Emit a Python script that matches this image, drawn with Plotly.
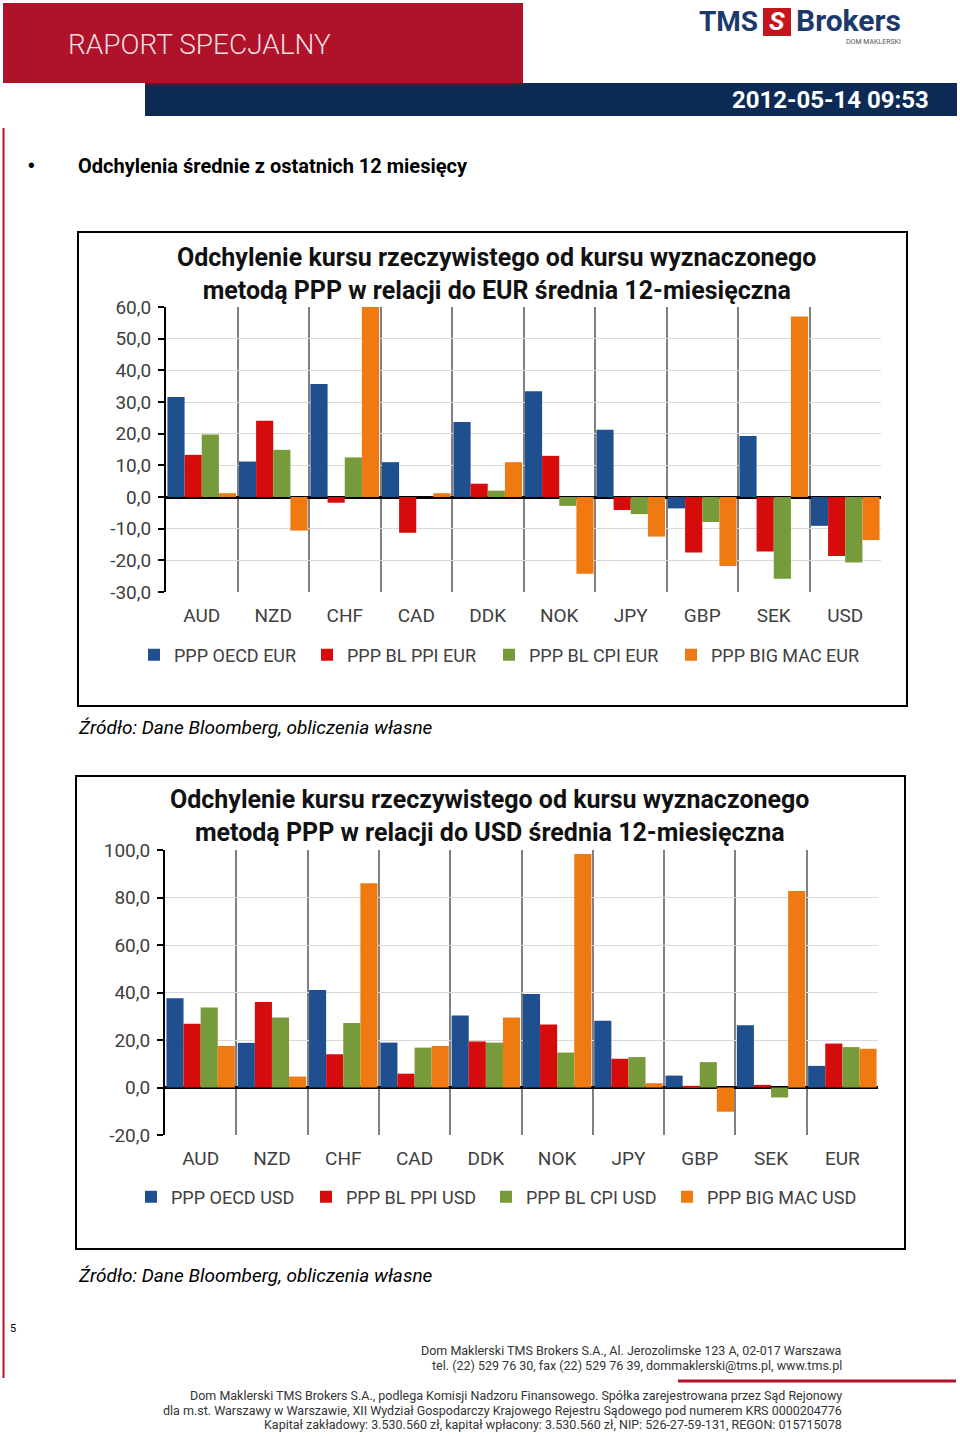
import plotly.graph_objects as go

W, H = 960, 1436

def fx(x):
    return x / W

def fy(y):
    return 1 - y / H

# ---------------- data ----------------
cats_eur = ["AUD", "NZD", "CHF", "CAD", "DDK", "NOK", "JPY", "GBP", "SEK", "USD"]
oecd_eur = [31.6, 11.2, 35.7, 11.0, 23.7, 33.4, 21.2, -3.6, 19.3, -9.1]
ppi_eur = [13.3, 24.1, -1.8, -11.3, 4.2, 13.0, -4.1, -17.5, -17.2, -18.6]
cpi_eur = [19.7, 14.9, 12.5, 0.0, 2.0, -2.8, -5.4, -7.9, -25.8, -20.7]
bigmac_eur = [1.2, -10.6, 60.0, 1.2, 11.0, -24.2, -12.5, -21.8, 57.0, -13.6]
names_eur = ["PPP OECD EUR", "PPP BL PPI EUR", "PPP BL CPI EUR", "PPP BIG MAC EUR"]
yrange_eur = [-30, 60]
yticks_eur = [-30, -20, -10, 0, 10, 20, 30, 40, 50, 60]
ytext_eur = ["-30,0", "-20,0", "-10,0", "0,0", "10,0", "20,0", "30,0", "40,0", "50,0", "60,0"]

cats_usd = ["AUD", "NZD", "CHF", "CAD", "DDK", "NOK", "JPY", "GBP", "SEK", "EUR"]
oecd_usd = [37.6, 18.8, 41.1, 18.9, 30.3, 39.4, 28.1, 5.0, 26.2, 9.1]
ppi_usd = [26.8, 36.0, 14.0, 5.8, 19.4, 26.5, 12.1, 0.7, 1.1, 18.5]
cpi_usd = [33.7, 29.5, 27.2, 16.8, 18.9, 14.7, 12.8, 10.7, -4.2, 17.0]
bigmac_usd = [17.5, 4.6, 86.0, 17.5, 29.5, 98.3, 1.8, -10.2, 82.7, 16.3]
names_usd = ["PPP OECD USD", "PPP BL PPI USD", "PPP BL CPI USD", "PPP BIG MAC USD"]
yrange_usd = [-20, 100]
yticks_usd = [-20, 0, 20, 40, 60, 80, 100]
ytext_usd = ["-20,0", "0,0", "20,0", "40,0", "60,0", "80,0", "100,0"]

colors = ["#1f4f8f", "#d60c0c", "#779b3b", "#f07a12"]

title_eur = "Odchylenie kursu rzeczywistego od kursu wyznaczonego<br>metodą PPP w relacji do EUR średnia 12-miesięczna"
title_usd = "Odchylenie kursu rzeczywistego od kursu wyznaczonego<br>metodą PPP w relacji do USD średnia 12-miesięczna"
source_txt = "Źródło: Dane Bloomberg, obliczenia własne"

# ---------------- figure ----------------
fig = go.Figure()

legfont = dict(family="Roboto, DejaVu Sans", size=18, color="#404040")
leg_layout = {}
leg_x_eur = [148, 321, 503, 685]
leg_x_usd = [145, 320, 500, 681]

k = 0
for vals, name, col, lx in zip([oecd_eur, ppi_eur, cpi_eur, bigmac_eur], names_eur, colors, leg_x_eur):
    k += 1
    lid = "legend" if k == 1 else "legend%d" % k
    fig.add_trace(go.Bar(x=cats_eur, y=vals, name=name, marker=dict(color=col, line=dict(width=0)),
                         xaxis="x", yaxis="y", legend=lid))
    leg_layout[lid] = dict(x=fx(lx - 14), y=fy(655), xanchor="left", yanchor="middle",
                           itemwidth=30, font=legfont, bgcolor="rgba(0,0,0,0)")
for vals, name, col, lx in zip([oecd_usd, ppi_usd, cpi_usd, bigmac_usd], names_usd, colors, leg_x_usd):
    k += 1
    lid = "legend%d" % k
    fig.add_trace(go.Bar(x=cats_usd, y=vals, name=name, marker=dict(color=col, line=dict(width=0)),
                         xaxis="x2", yaxis="y2", legend=lid))
    leg_layout[lid] = dict(x=fx(lx - 14), y=fy(1197), xanchor="left", yanchor="middle",
                           itemwidth=30, font=legfont, bgcolor="rgba(0,0,0,0)")

axfont = dict(family="Roboto, DejaVu Sans", size=19, color="#404040")

def xax(domain, anchor):
    return dict(domain=domain, anchor=anchor, type="category", tickson="boundaries",
                showgrid=True, gridcolor="#808080", gridwidth=2, ticks="", showline=False,
                zeroline=False, tickfont=axfont, ticklabelstandoff=10, fixedrange=True,
                automargin=False)

def yax(domain, anchor, rng, tv, tt):
    return dict(domain=domain, anchor=anchor, range=rng, tickvals=tv, ticktext=tt,
                showgrid=True, gridcolor="#d9d9d9", gridwidth=1, zeroline=True,
                zerolinecolor="#000000", zerolinewidth=2.5, showline=True, linecolor="#000000",
                linewidth=2, ticks="outside", ticklen=6, tickcolor="#000000", tickwidth=2,
                tickfont=axfont, ticklabelstandoff=3, fixedrange=True, automargin=False)

ydom1 = [fy(592), fy(307)]
ydom2 = [fy(1135), fy(850)]

def zero_pos(dom, rng):
    return dom[0] + (0 - rng[0]) / (rng[1] - rng[0]) * (dom[1] - dom[0])

def tickax(domain, overlay, dom, rng, n):
    # small tick marks hanging below the zero line at category boundaries
    return dict(domain=domain, overlaying=overlay, anchor="free", position=zero_pos(dom, rng),
                type="linear", range=[0, n], tick0=0, dtick=1, ticks="outside", ticklen=6,
                tickwidth=2, tickcolor="#000000", showticklabels=False, showgrid=False,
                zeroline=False, showline=False, fixedrange=True, automargin=False)

fig.update_layout(
    width=W, height=H, margin=dict(l=0, r=0, t=0, b=0, autoexpand=False),
    paper_bgcolor="white", plot_bgcolor="white",
    barmode="group", bargap=0.04, bargroupgap=0,
    xaxis=xax([fx(166), fx(881)], "y"),
    yaxis=yax(ydom1, "x", yrange_eur, yticks_eur, ytext_eur),
    xaxis2=xax([fx(165), fx(878)], "y2"),
    yaxis2=yax(ydom2, "x2", yrange_usd, yticks_usd, ytext_usd),
    xaxis3=tickax([fx(166), fx(881)], "x", ydom1, yrange_eur, len(cats_eur)),
    xaxis4=tickax([fx(165), fx(878)], "x2", ydom2, yrange_usd, len(cats_usd)),
    showlegend=True,
    **leg_layout,
)

shapes = []
def rect(x0, y0, x1, y1, fill=None, line=None, lw=0):
    shapes.append(dict(type="rect", xref="paper", yref="paper", x0=fx(x0), x1=fx(x1),
                       y0=fy(y1), y1=fy(y0), fillcolor=fill if fill else "rgba(0,0,0,0)",
                       line=dict(color=line if line else "rgba(0,0,0,0)", width=lw), layer="below"))

def hline(x0, x1, y, color, w):
    shapes.append(dict(type="line", xref="paper", yref="paper", x0=fx(x0), x1=fx(x1),
                       y0=fy(y), y1=fy(y), line=dict(color=color, width=w)))

def vline(x, y0, y1, color, w):
    shapes.append(dict(type="line", xref="paper", yref="paper", x0=fx(x), x1=fx(x),
                       y0=fy(y0), y1=fy(y1), line=dict(color=color, width=w)))

# header
rect(3, 3, 523, 83, fill="#b0122a")
rect(145, 83, 957, 116, fill="#0d2a55")
hline(145, 523, 84, "#3a2a30", 2)
# logo box
rect(763, 8, 791, 36, fill="#c4161c")
# left red line
vline(3.5, 128, 1378, "#b0122a", 2)
# chart frames
rect(78, 232, 907, 706, line="#000000", lw=2)
rect(76, 776, 905, 1249, line="#000000", lw=2)
# footer red line
hline(678, 956, 1381, "#b0122a", 3)

fig.update_layout(shapes=shapes)

ann = []
def text(x, y, t, size, color="#000000", family="Roboto, DejaVu Sans", xanchor="left",
         yanchor="middle", weight="normal", style="normal", align="left"):
    ann.append(dict(xref="paper", yref="paper", x=fx(x), y=fy(y), text=t, showarrow=False,
                    xanchor=xanchor, yanchor=yanchor, align=align,
                    font=dict(size=size, color=color, family=family, weight=weight, style=style)))

text(66, 45, "RAPORT SPECJALNY", 28, color="#ecdfe1", weight=300)
text(931, 100, "2012-05-14 09:53", 24, color="#ffffff", xanchor="right", weight="bold")
text(697, 21, "TMS", 28, color="#1b3a6b", weight="bold")
text(777, 21, "<i>S</i>", 26, color="#ffffff", xanchor="center", weight="bold")
text(794, 20, "Brokers", 30, color="#1b3a6b", weight="bold")
text(903, 42, "DOM MAKLERSKI", 7, color="#555555", xanchor="right")

text(25, 166, "•", 26)
text(76, 166, "Odchylenia średnie z ostatnich 12 miesięcy", 20, weight="bold")

text(496, 274, title_eur, 25, color="#111111", xanchor="center", weight="bold", align="center")
text(490, 816, title_usd, 25, color="#111111", xanchor="center", weight="bold", align="center")

text(76, 727, source_txt, 19, color="#000000", style="italic")
text(76, 1275, source_txt, 19, color="#000000", style="italic")

text(8, 1328, "5", 11)

fs = 12.5
text(844, 1350, "Dom Maklerski TMS Brokers S.A., Al. Jerozolimske 123 A, 02-017 Warszawa", fs, color="#333333", xanchor="right")
text(844, 1365, "tel. (22) 529 76 30, fax (22) 529 76 39, dommaklerski@tms.pl, www.tms.pl", fs, color="#333333", xanchor="right")
text(844, 1395, "Dom Maklerski TMS Brokers S.A., podlega Komisji Nadzoru Finansowego. Spółka zarejestrowana przez Sąd Rejonowy", fs, color="#333333", xanchor="right")
text(844, 1410, "dla m.st. Warszawy w Warszawie, XII Wydział Gospodarczy Krajowego Rejestru Sądowego pod numerem KRS 0000204776", fs, color="#333333", xanchor="right")
text(844, 1424, "Kapitał zakładowy: 3.530.560 zł, kapitał wpłacony: 3.530.560 zł, NIP: 526-27-59-131, REGON: 015715078", fs, color="#333333", xanchor="right")

fig.update_layout(annotations=ann)

fig.write_html("out.html")
